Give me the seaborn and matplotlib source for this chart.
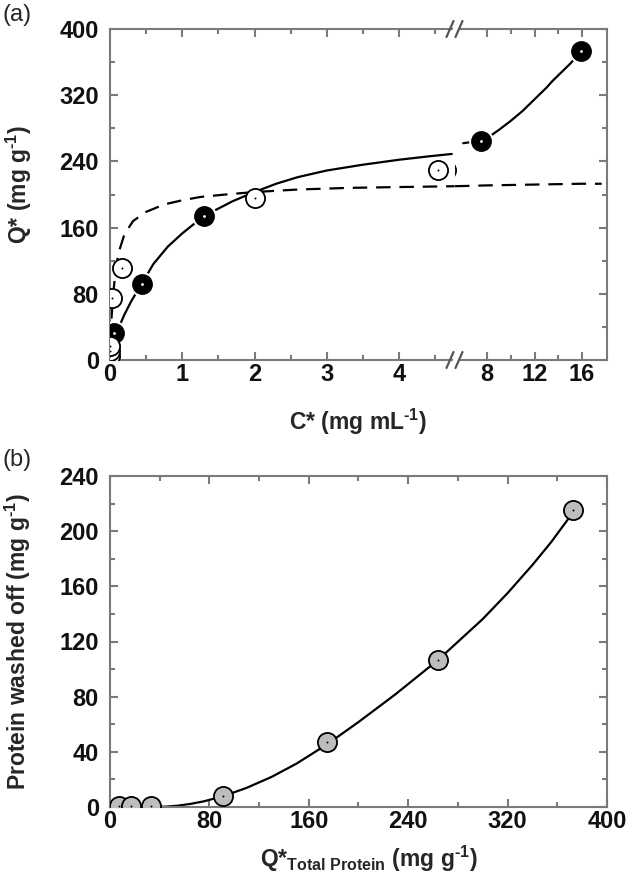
import numpy as np
import pandas as pd
import matplotlib
matplotlib.use('Agg')
import matplotlib.pyplot as plt
import seaborn as sns
from matplotlib.ticker import MultipleLocator, FixedLocator

# ---- panel (a): isotherm ----
filled_c = [0.05, 0.44, 1.30, 7.5, 15.95]
filled_q = [33, 92, 174, 265, 374]
open_c = [0.005, 0.005, 0.005, 0.03, 0.16, 2.01, 4.54]
open_q = [5, 11, 17, 75, 111, 196, 230]

# solid fit (left and right of the axis break)
fit_c_left = [0.1, 0.2, 0.3, 0.44, 0.6, 0.8, 1.0, 1.3, 1.7, 2.0, 2.3, 2.6, 3.0, 3.5, 4.0, 4.4, 4.73]
fit_q_left = [35, 55, 72, 92, 116, 137, 153, 174, 192, 203, 213, 221, 229, 236, 242, 246, 249]
fit_c_right = [6.0, 7.5, 8.0, 8.5, 9.0, 9.5, 10.0, 10.5, 11.0, 11.5, 12.0, 12.5, 13.0,
               13.5, 14.0, 14.5, 15.0, 15.5, 15.95]
fit_q_right = [262, 265, 268.5, 273, 278, 283.5, 289, 295, 301, 308, 315, 322, 329,
               337, 344, 351, 358, 366, 373]

# dashed (Langmuir) fit
lang_c_left = [0.02, 0.05, 0.08, 0.12, 0.2, 0.32, 0.5, 0.75, 1.0, 1.25, 1.6, 2.0, 2.6, 3.3, 4.0, 4.77]
lang_q_left = [50, 85, 110, 130, 152, 168, 179, 188, 193, 197, 200, 203, 206, 208, 209, 210]
lang_c_right = [5.31, 8, 12, 16, 17.65]
lang_q_right = [210, 211, 212, 213, 213]

# ---- panel (b): protein washed off ----
total_q = [7, 17, 33, 91, 175, 264, 373]
washed = [1, 1, 1, 8, 47, 106.5, 215]
wash_fit_x = [35, 45, 55, 65, 75, 91, 110, 130, 150, 175, 200, 230, 264, 300, 320, 340, 355, 373]
wash_fit_y = [0, 0.25, 1, 2.3, 4, 7.8, 13.9, 21.8, 31.4, 45.6, 61.6, 81.9, 106.6, 136.3,
              155.1, 175.5, 192, 214]

sns.set_theme(style='ticks')
plt.rcParams['font.family'] = ['Liberation Sans', 'DejaVu Sans']
plt.rcParams['font.weight'] = 'bold'
plt.rcParams['mathtext.fontset'] = 'custom'
plt.rcParams['mathtext.rm'] = 'Liberation Sans:bold'
plt.rcParams['mathtext.bf'] = 'Liberation Sans:bold'
plt.rcParams['mathtext.it'] = 'Liberation Sans:italic'

GRAY = '#7a7a7a'
W, H = 630, 889


def box(l, t, r, b):
    return [l / W, 1 - b / H, (r - l) / W, (b - t) / H]


fig = plt.figure(figsize=(6.3, 8.89), dpi=100)
ax_l = fig.add_axes(box(110, 29, 455, 360))
ax_r = fig.add_axes(box(455, 29, 607, 360), sharey=ax_l)
ax_b = fig.add_axes(box(110, 476, 607, 807))

for ax in (ax_l, ax_r, ax_b):
    for s in ax.spines.values():
        s.set_color(GRAY)
        s.set_linewidth(1.5)
    ax.tick_params(which='both', direction='in', color=GRAY, width=1.5,
                   top=True, right=True, labelsize=17, labelcolor='#111111')
    ax.tick_params(which='major', length=6)
    ax.tick_params(which='minor', length=3.5)
    ax.tick_params(axis='y', pad=8)
    ax.tick_params(axis='x', pad=2.5)

ax_l.spines['right'].set_visible(False)
ax_r.spines['left'].set_visible(False)
ax_l.tick_params(which='both', right=False)
ax_r.tick_params(which='both', left=False, labelleft=False)

line_kw = dict(color='black', lw=1.6, estimator=None, sort=False, legend=False)
ms = 190

for ax, fc, fq, lc, lq in ((ax_l, fit_c_left, fit_q_left, lang_c_left, lang_q_left),
                           (ax_r, fit_c_right, fit_q_right, lang_c_right, lang_q_right)):
    sns.lineplot(x=lc, y=lq, ax=ax, dashes=[(6.5, 4)], style=[0] * len(lc), **line_kw)
    sns.lineplot(x=fc, y=fq, ax=ax, **line_kw)
    sns.scatterplot(x=filled_c, y=filled_q, ax=ax, s=320, color='white', linewidth=0, zorder=3)
    sns.scatterplot(x=filled_c, y=filled_q, ax=ax, s=ms, color='black', edgecolor='black',
                    linewidth=1.2, zorder=4)
    sns.scatterplot(x=filled_c, y=filled_q, ax=ax, s=4, color='white', linewidth=0, zorder=5)
    sns.scatterplot(x=open_c, y=open_q, ax=ax, s=ms, color='white', edgecolor='black',
                    linewidth=1.3, zorder=4)
    sns.scatterplot(x=open_c, y=open_q, ax=ax, s=2, color='black', linewidth=0, zorder=5)

ax_l.set_xlim(0, 4.775)
ax_r.set_xlim(5.31, 18.1)
ax_l.set_ylim(0, 400)
ax_l.xaxis.set_major_locator(FixedLocator([0, 1, 2, 3, 4]))
ax_l.xaxis.set_minor_locator(FixedLocator([0.5, 1.5, 2.5, 3.5, 4.5]))
ax_r.xaxis.set_major_locator(FixedLocator([8, 12, 16]))
ax_r.xaxis.set_minor_locator(FixedLocator([10, 14]))
ax_l.yaxis.set_major_locator(MultipleLocator(80))
ax_l.yaxis.set_minor_locator(MultipleLocator(40))
ax_r.set_ylabel('')

ax_l.set_xlabel(r'C* (mg mL$^{\text{-1}}$)', fontsize=16.5, fontweight='bold')
ax_l.xaxis.set_label_coords((358 - 110) / 345, (360 - 430) / 331)
ax_l.xaxis.label.set_va('baseline')
ax_l.set_ylabel(r'Q* (mg g$^{\text{-1}}$)', fontsize=16.5, fontweight='bold')
ax_l.yaxis.set_label_coords((34 - 110) / 345, 0.53)

# axis break marks
bw, bh = 152, 331
for yb in (0, 1):
    ax_r.plot([-1.5 / bw, 1.5 / bw], [yb, yb], transform=ax_r.transAxes, color='white',
              lw=2.5, clip_on=False, zorder=5.5)
    for dx in (-5, 4):
        ax_r.plot([(dx - 3.5) / bw, (dx + 3.5) / bw], [yb - 8 / bh, yb + 8 / bh],
                  transform=ax_r.transAxes, color='#555555', lw=1.6, clip_on=False, zorder=6)

# panel (b)
sns.lineplot(x=wash_fit_x, y=wash_fit_y, ax=ax_b, **line_kw)
sns.scatterplot(x=total_q, y=washed, ax=ax_b, s=ms, color='#bdbdbd', edgecolor='black',
                linewidth=1.3, zorder=4)
sns.scatterplot(x=total_q, y=washed, ax=ax_b, s=2, color='black', linewidth=0, zorder=5)
ax_b.set_xlim(0, 400)
ax_b.set_ylim(0, 240)
ax_b.xaxis.set_major_locator(MultipleLocator(80))
ax_b.xaxis.set_minor_locator(MultipleLocator(40))
ax_b.yaxis.set_major_locator(MultipleLocator(40))
ax_b.yaxis.set_minor_locator(MultipleLocator(20))
ax_b.set_xlabel(r'Q*$_{\text{Total Protein}}$ (mg g$^{\text{-1}}$)', fontsize=16.5,
                fontweight='bold')
ax_b.xaxis.set_label_coords((369 - 110) / 497, (807 - 867) / 331)
ax_b.xaxis.label.set_va('baseline')
ax_b.set_ylabel(r'Protein washed off (mg g$^{\text{-1}}$)', fontsize=16.5, fontweight='bold')
ax_b.yaxis.set_label_coords((33 - 110) / 497, 0.5)

fig.text(3 / W, 1 - 15 / H, '(a)', fontsize=17, fontweight='normal', va='center')
fig.text(3 / W, 1 - 460 / H, '(b)', fontsize=17, fontweight='normal', va='center')

fig.savefig('out.png', dpi=100)
